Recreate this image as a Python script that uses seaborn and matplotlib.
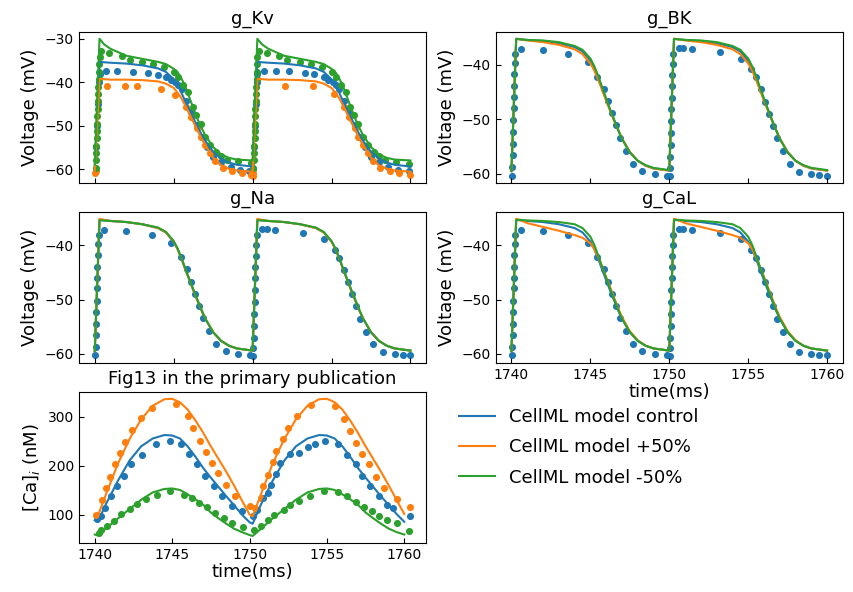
import matplotlib
matplotlib.use("Agg")
import matplotlib.pyplot as plt
import seaborn as sns
from matplotlib.lines import Line2D

# ---------------- model time grid (ms) ----------------
t_model = [1740.0, 1740.3, 1740.6, 1741.0, 1742.0, 1743.0, 1744.0, 1744.5, 1745.0, 1745.25,
           1745.5, 1745.75, 1746.0, 1746.25, 1746.5, 1746.75, 1747.0, 1747.5, 1748.0, 1748.5, 1749.0,
           1750.0, 1750.3, 1750.6, 1751.0, 1752.0, 1753.0, 1754.0, 1754.5, 1755.0, 1755.25,
           1755.5, 1755.75, 1756.0, 1756.25, 1756.5, 1756.75, 1757.0, 1757.5, 1758.0, 1758.5, 1759.0,
           1760.0]

V_control = [-59.5, -35.3, -35.4, -35.5, -35.7, -36.1, -36.8, -37.6, -39.3, -40.7,
             -42.5, -44.5, -46.4, -48.3, -50.1, -51.9, -53.5, -56.0, -57.6, -58.5, -59.0,
             -59.4, -35.3, -35.4, -35.5, -35.7, -36.1, -36.8, -37.6, -39.3, -40.7,
             -42.5, -44.5, -46.4, -48.3, -50.1, -51.9, -53.5, -56.0, -57.6, -58.5, -59.0,
             -59.4]

Kv_plus = [-60.3, -39.2, -39.3, -39.4, -39.4, -39.5, -39.8, -40.3, -41.3, -42.4,
           -43.7, -45.5, -47.3, -49.2, -51.0, -52.9, -54.5, -57.4, -59.1, -59.9, -60.3,
           -60.6, -39.2, -39.3, -39.4, -39.4, -39.5, -39.8, -40.3, -41.3, -42.4,
           -43.7, -45.5, -47.3, -49.2, -51.0, -52.9, -54.5, -57.4, -59.1, -59.9, -60.3,
           -60.6]

Kv_minus = [-59.0, -30.0, -31.3, -32.3, -33.9, -34.6, -35.3, -35.8, -36.9, -37.7,
            -39.2, -41.1, -43.6, -46.0, -48.4, -50.4, -52.2, -54.9, -56.6, -57.4, -57.8,
            -58.0, -30.0, -31.3, -32.3, -33.9, -34.6, -35.3, -35.8, -36.9, -37.7,
            -39.2, -41.1, -43.6, -46.0, -48.4, -50.4, -52.2, -54.9, -56.6, -57.4, -57.8,
            -58.0]

BK_plus = [-59.5, -35.3, -35.4, -35.6, -35.9, -36.4, -37.2, -38.1, -39.8, -41.1,
           -42.8, -44.7, -46.6, -48.4, -50.2, -51.9, -53.5, -56.0, -57.6, -58.5, -59.0,
           -59.4, -35.3, -35.4, -35.6, -35.9, -36.4, -37.2, -38.1, -39.8, -41.1,
           -42.8, -44.7, -46.6, -48.4, -50.2, -51.9, -53.5, -56.0, -57.6, -58.5, -59.0,
           -59.4]

BK_minus = [-59.5, -35.3, -35.4, -35.5, -35.6, -35.9, -36.6, -37.3, -38.9, -40.3,
            -42.1, -44.2, -46.2, -48.2, -50.1, -51.9, -53.6, -56.1, -57.6, -58.4, -58.9,
            -59.3, -35.3, -35.4, -35.5, -35.6, -35.9, -36.6, -37.3, -38.9, -40.3,
            -42.1, -44.2, -46.2, -48.2, -50.1, -51.9, -53.6, -56.1, -57.6, -58.4, -58.9,
            -59.3]

Na_plus = [-59.5, -35.1, -35.3, -35.5, -35.7, -36.1, -36.8, -37.6, -39.3, -40.7,
           -42.5, -44.5, -46.4, -48.3, -50.1, -51.9, -53.5, -56.0, -57.6, -58.5, -59.0,
           -59.4, -35.1, -35.3, -35.5, -35.7, -36.1, -36.8, -37.6, -39.3, -40.7,
           -42.5, -44.5, -46.4, -48.3, -50.1, -51.9, -53.5, -56.0, -57.6, -58.5, -59.0,
           -59.4]

Na_minus = [-59.5, -35.4, -35.4, -35.5, -35.7, -36.1, -36.7, -37.5, -39.2, -40.6,
            -42.4, -44.4, -46.3, -48.2, -50.0, -51.8, -53.5, -56.0, -57.6, -58.5, -59.0,
            -59.4, -35.4, -35.4, -35.5, -35.7, -36.1, -36.7, -37.5, -39.2, -40.6,
            -42.4, -44.4, -46.3, -48.2, -50.0, -51.8, -53.5, -56.0, -57.6, -58.5, -59.0,
            -59.4]

CaL_plus = [-59.5, -35.1, -35.4, -35.9, -36.6, -37.3, -38.1, -38.6, -39.6, -40.7,
            -42.2, -44.0, -45.8, -47.7, -49.6, -51.5, -53.2, -55.8, -57.5, -58.5, -59.0,
            -59.4, -35.1, -35.4, -35.9, -36.6, -37.3, -38.1, -38.6, -39.6, -40.7,
            -42.2, -44.0, -45.8, -47.7, -49.6, -51.5, -53.2, -55.8, -57.5, -58.5, -59.0,
            -59.4]

CaL_minus = [-59.5, -35.3, -35.3, -35.4, -35.5, -35.7, -36.1, -36.8, -38.4, -39.9,
             -41.9, -44.0, -46.0, -48.0, -49.9, -51.8, -53.5, -56.0, -57.6, -58.5, -59.0,
             -59.4, -35.3, -35.3, -35.4, -35.5, -35.7, -36.1, -36.8, -38.4, -39.9,
             -41.9, -44.0, -46.0, -48.0, -49.9, -51.8, -53.5, -56.0, -57.6, -58.5, -59.0,
             -59.4]

# ---------------- experimental voltage points ----------------
exp_t = [1740.02, 1740.05, 1740.07, 1740.08, 1740.10, 1740.12, 1740.14, 1740.15, 1740.17, 1740.19,
         1740.21, 1740.25, 1740.60, 1742.00, 1743.60, 1744.85, 1745.45, 1745.85, 1746.10, 1746.35,
         1746.60, 1746.85, 1747.25, 1747.70, 1748.30, 1749.10, 1749.85,
         1750.02, 1750.04, 1750.06, 1750.08, 1750.10, 1750.12, 1750.14, 1750.16, 1750.18, 1750.20,
         1750.22, 1750.26, 1750.60, 1750.90, 1751.45, 1753.20, 1754.55, 1755.20, 1755.50, 1755.80,
         1756.05, 1756.30, 1756.55, 1756.80, 1757.20, 1757.65, 1758.25, 1759.00, 1759.50, 1760.00]
exp_V = [-60.3, -58.7, -56.6, -54.5, -52.3, -50.2, -47.9, -46.0, -44.0, -41.8,
         -39.8, -38.0, -37.1, -37.4, -38.1, -39.6, -42.2, -44.4, -46.7, -48.9,
         -51.1, -53.4, -55.8, -58.1, -59.5, -60.1, -60.3,
         -60.4, -59.0, -57.0, -54.8, -52.6, -50.4, -48.2, -46.1, -44.0, -41.9,
         -39.9, -38.1, -37.0, -37.0, -37.1, -37.7, -38.9, -40.9, -42.3, -44.5,
         -46.8, -49.0, -51.2, -53.5, -55.9, -58.1, -59.6, -60.0, -60.2, -60.3]

Kv_ctrl_t = [1740.05, 1740.10, 1740.15, 1740.20, 1740.25, 1740.30, 1740.70, 1741.40, 1742.40, 1743.40,
             1744.00, 1744.50, 1744.80, 1745.10, 1745.30, 1745.50, 1745.80, 1746.10, 1746.50, 1746.80,
             1747.10, 1747.50, 1748.00, 1748.60, 1749.20, 1749.80,
             1750.05, 1750.10, 1750.15, 1750.20, 1750.25, 1750.30, 1750.70, 1751.50, 1752.30, 1753.30,
             1753.90, 1754.50, 1754.80, 1755.10, 1755.30, 1755.50, 1755.80, 1756.10, 1756.50, 1756.80,
             1757.10, 1757.50, 1758.00, 1758.60, 1759.20, 1759.90]
Kv_ctrl_V = [-60.0, -55.0, -50.0, -45.0, -40.0, -38.0, -37.4, -37.4, -37.6, -37.9,
             -38.4, -38.8, -39.4, -39.9, -40.6, -41.6, -44.3, -46.8, -49.8, -52.5,
             -55.0, -57.3, -58.3, -59.4, -60.3, -60.5,
             -60.0, -55.0, -50.0, -45.0, -40.0, -38.0, -37.4, -37.4, -37.5, -37.8,
             -38.2, -38.8, -39.4, -39.9, -40.6, -41.6, -44.3, -46.8, -49.8, -52.5,
             -55.0, -57.3, -58.3, -59.4, -60.2, -60.5]

Kv_plus_t = [1740.00, 1740.05, 1740.80, 1741.90, 1742.70, 1744.20, 1745.10, 1745.80, 1746.10, 1746.50,
             1746.70, 1747.00, 1747.30, 1747.60, 1748.10, 1748.70, 1749.30, 1749.90,
             1750.00, 1750.05, 1752.05, 1753.85, 1755.15, 1755.80, 1756.10, 1756.50,
             1756.70, 1757.00, 1757.30, 1757.60, 1758.10, 1758.70, 1759.30, 1760.00]
Kv_plus_V = [-61.0, -60.5, -40.9, -40.9, -40.9, -41.5, -43.0, -45.6, -47.9, -50.6,
             -52.5, -54.4, -56.3, -58.2, -59.8, -60.5, -60.9, -61.3,
             -61.6, -60.8, -40.9, -40.9, -42.8, -45.6, -47.9, -50.6,
             -52.5, -54.4, -56.3, -58.2, -59.8, -60.5, -60.9, -61.4]

Kv_minus_t = [1740.05, 1740.07, 1740.09, 1740.10, 1740.12, 1740.13, 1740.15, 1740.17, 1740.18, 1740.20,
              1740.22, 1740.23, 1740.25, 1740.27, 1740.28, 1740.30, 1740.40,
              1740.90, 1741.70, 1742.20, 1743.00, 1743.70, 1744.40, 1745.00, 1745.30, 1745.60,
              1745.90, 1746.20, 1746.40, 1746.70, 1747.00, 1747.30, 1747.70, 1748.00, 1748.40,
              1749.10, 1749.90,
              1750.05, 1750.07, 1750.09, 1750.10, 1750.12, 1750.13, 1750.15, 1750.17, 1750.18, 1750.20,
              1750.22, 1750.23, 1750.25, 1750.27, 1750.28, 1750.30, 1750.40,
              1750.90, 1751.70, 1752.20, 1753.00, 1753.70, 1754.40, 1755.00, 1755.30, 1755.60,
              1755.90, 1756.20, 1756.40, 1756.70, 1757.00, 1757.30, 1757.70, 1758.00, 1758.40,
              1759.10, 1759.90]
Kv_minus_V = [-59.8, -58.0, -56.3, -54.6, -52.9, -51.2, -49.5, -47.8, -46.1, -44.4,
              -42.7, -41.0, -39.3, -37.6, -35.9, -34.2, -32.7,
              -33.3, -34.0, -34.8, -35.3, -35.7, -36.5, -37.6, -38.8, -40.7,
              -42.2, -45.6, -47.6, -49.5, -52.5, -54.4, -56.0, -57.0, -57.9,
              -58.2, -58.6,
              -59.8, -58.0, -56.3, -54.6, -52.9, -51.2, -49.5, -47.8, -46.1, -44.4,
              -42.7, -41.0, -39.3, -37.6, -35.9, -34.2, -32.7,
              -33.3, -34.0, -34.8, -35.3, -35.7, -36.5, -37.6, -38.8, -40.7,
              -42.2, -45.6, -47.6, -49.5, -52.5, -54.4, -56.0, -57.0, -57.9,
              -58.4, -58.9]

# ---------------- calcium (Fig13) ----------------
t_ca = [1740.0, 1740.2, 1740.75, 1741.5, 1742.25, 1743.0, 1743.75, 1744.5, 1745.0, 1745.5,
        1746.0, 1746.5, 1747.0, 1747.5, 1748.0, 1748.5, 1749.0, 1749.5,
        1750.0, 1750.2, 1750.75, 1751.5, 1752.25, 1753.0, 1753.75, 1754.5, 1755.0, 1755.5,
        1756.0, 1756.5, 1757.0, 1757.5, 1758.0, 1758.5, 1759.0, 1759.5,
        1760.0]
Ca_control = [89, 86, 124, 170, 211, 240, 256, 263, 262, 256, 240, 219, 196, 176, 157, 138, 120, 101,
              85, 82, 122, 170, 211, 240, 256, 263, 262, 256, 240, 219, 196, 176, 157, 138, 120, 102,
              86]
Ca_plus = [101, 98, 144, 205, 255, 295, 323, 336, 337, 330, 315, 293, 268, 240, 214, 188, 160, 130,
           101, 97, 143, 205, 255, 295, 323, 336, 337, 330, 315, 293, 268, 240, 214, 188, 160, 131,
           102]
Ca_minus = [60, 58, 73, 93, 112, 131, 146, 153, 154, 151, 142, 132, 121, 105, 93, 82, 72, 65,
            59, 57, 72, 93, 112, 131, 146, 153, 154, 151, 142, 132, 121, 105, 93, 82, 72, 65,
            60]

ca_ctrl_t = [1740.15, 1740.38, 1740.64, 1741.08, 1741.44, 1741.86, 1742.33, 1743.03, 1743.94, 1744.83,
             1745.57, 1746.10, 1746.63, 1747.12, 1747.69, 1748.22, 1748.90, 1749.53,
             1750.20, 1750.50, 1750.90, 1751.20, 1751.40, 1751.70, 1752.00, 1752.60, 1753.20, 1753.80,
             1754.20, 1754.90, 1755.70, 1756.30, 1756.90, 1757.30, 1757.80, 1758.40, 1758.90, 1759.30,
             1760.40]
ca_ctrl_v = [92, 98, 114, 138, 158, 180, 203, 223, 244, 251,
             244, 225, 203, 180, 160, 139, 118, 107,
             97, 110, 134, 145, 162, 184, 206, 225, 227, 239,
             245, 251, 244, 223, 203, 180, 158, 138, 121, 114,
             97]
ca_plus_t = [1740.10, 1740.49, 1740.70, 1741.00, 1741.33, 1741.65, 1741.97, 1742.40, 1743.00, 1743.73,
             1745.25, 1746.00, 1746.35, 1746.80, 1747.20, 1747.55, 1747.97, 1748.50, 1749.07, 1750.00,
             1750.37, 1750.75, 1750.90, 1751.20, 1751.50, 1751.70, 1752.15, 1752.50, 1753.10, 1754.00,
             1755.50, 1756.10, 1756.50, 1756.90, 1757.30, 1757.70, 1758.20, 1758.70, 1759.50, 1760.40]
ca_plus_v = [100, 131, 155, 177, 203, 227, 249, 273, 297, 318,
             326, 302, 277, 251, 229, 206, 186, 162, 139, 118,
             114, 134, 158, 182, 208, 230, 254, 277, 302, 324,
             323, 295, 271, 247, 225, 203, 177, 155, 132, 117]
ca_minus_t = [1740.25, 1740.42, 1740.80, 1741.23, 1741.70, 1742.25, 1742.75, 1743.30, 1744.00, 1744.87,
              1745.78, 1746.27, 1746.74, 1747.27, 1747.80, 1748.33, 1748.90, 1749.55,
              1750.30, 1750.75, 1751.20, 1751.60, 1752.20, 1752.60, 1753.20, 1753.90, 1754.80, 1755.70,
              1756.30, 1756.90, 1757.40, 1757.90, 1758.40, 1758.90, 1759.50, 1760.30]
ca_minus_v = [63, 69, 77, 88, 102, 112, 123, 132, 141, 148,
              141, 134, 125, 116, 103, 93, 83, 76,
              69, 77, 90, 100, 110, 121, 129, 139, 148, 146,
              138, 127, 116, 107, 98, 90, 83, 68]

labels = ["CellML model control", "CellML model +50%", "CellML model -50%"]
colors = ["tab:blue", "tab:orange", "tab:green"]

# ---------------- figure ----------------
fig, axes = plt.subplots(3, 2, figsize=(8.54, 5.92), dpi=100)
fig.subplots_adjust(left=0.0925, right=0.987, top=0.946, bottom=0.083, wspace=0.2, hspace=0.192)

LW = 1.5
S = 26


def line(ax, t, v, c):
    sns.lineplot(x=t, y=v, ax=ax, color=c, linewidth=LW, estimator=None, legend=False)


def dots(ax, t, v, c):
    sns.scatterplot(x=t, y=v, ax=ax, color=c, s=S, linewidth=0, legend=False)


# g_Kv
ax = axes[0, 0]
line(ax, t_model, V_control, colors[0]); dots(ax, Kv_ctrl_t, Kv_ctrl_V, colors[0])
line(ax, t_model, Kv_plus, colors[1]); dots(ax, Kv_plus_t, Kv_plus_V, colors[1])
line(ax, t_model, Kv_minus, colors[2]); dots(ax, Kv_minus_t, Kv_minus_V, colors[2])
ax.set_title("g_Kv", fontsize=13)

# g_BK
ax = axes[0, 1]
line(ax, t_model, V_control, colors[0]); dots(ax, exp_t, exp_V, colors[0])
line(ax, t_model, BK_plus, colors[1])
line(ax, t_model, BK_minus, colors[2])
ax.set_title("g_BK", fontsize=13)

# g_Na
ax = axes[1, 0]
line(ax, t_model, V_control, colors[0]); dots(ax, exp_t, exp_V, colors[0])
line(ax, t_model, Na_plus, colors[1])
line(ax, t_model, Na_minus, colors[2])
ax.set_title("g_Na", fontsize=13)

# g_CaL
ax = axes[1, 1]
line(ax, t_model, V_control, colors[0]); dots(ax, exp_t, exp_V, colors[0])
line(ax, t_model, CaL_plus, colors[1])
line(ax, t_model, CaL_minus, colors[2])
ax.set_title("g_CaL", fontsize=13)
ax.set_xlabel("time(ms)", fontsize=13, labelpad=1)

# Ca
ax = axes[2, 0]
line(ax, t_ca, Ca_control, colors[0]); dots(ax, ca_ctrl_t, ca_ctrl_v, colors[0])
line(ax, t_ca, Ca_plus, colors[1]); dots(ax, ca_plus_t, ca_plus_v, colors[1])
line(ax, t_ca, Ca_minus, colors[2]); dots(ax, ca_minus_t, ca_minus_v, colors[2])
ax.set_title("Fig13 in the primary publication", fontsize=13)
ax.set_xlabel("time(ms)", fontsize=13, labelpad=1)
ax.set_ylabel("[Ca]$_i$ (nM)", fontsize=13)

for a in [axes[0, 0], axes[0, 1], axes[1, 0], axes[1, 1]]:
    a.set_ylabel("Voltage (mV)", fontsize=13)
for a in [axes[0, 0], axes[0, 1], axes[1, 0], axes[1, 1], axes[2, 0]]:
    a.tick_params(direction="in", labelsize=10)
    a.set_xticks([1740, 1745, 1750, 1755, 1760])
for a in [axes[0, 0], axes[0, 1], axes[1, 0]]:
    a.tick_params(labelbottom=False)

axes[2, 1].axis("off")
handles = [Line2D([0], [0], color=c, lw=LW) for c in colors]
fig.legend(handles, labels, loc="upper left", bbox_to_anchor=(0.518, 0.338),
           frameon=False, fontsize=13, labelspacing=0.68)

fig.savefig("out.png", dpi=100)
